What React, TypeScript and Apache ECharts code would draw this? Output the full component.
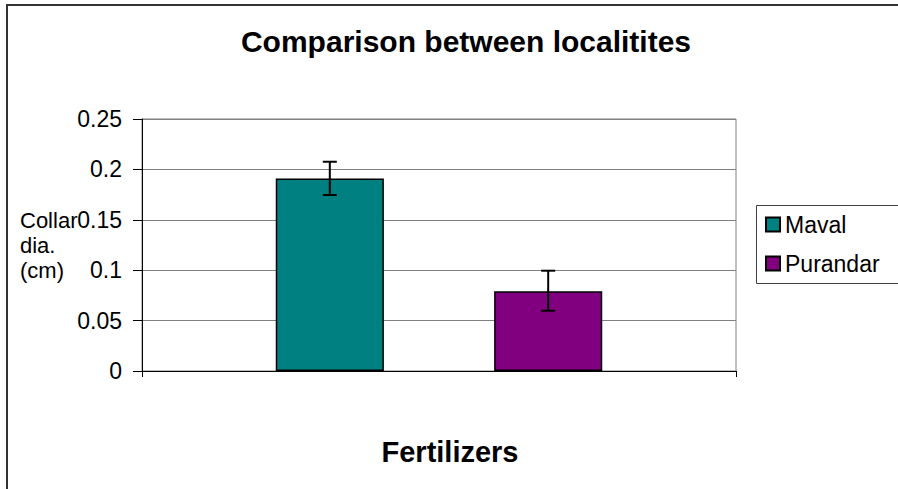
import React, { useEffect, useRef } from "react";
import * as echarts from "echarts";

const categories = ["Fertilizers"];
const seriesNames = ["Maval", "Purandar"];
const seriesColors = ["#008080", "#800080"];
const means = [0.191, 0.079];
const errLow = [0.1746, 0.0598];
const errHigh = [0.2076, 0.0995];
const yTicks = { min: 0, max: 0.25, interval: 0.05 };

const FONT = "'Liberation Sans', Arial, sans-serif";
const BAR_FRAC = 0.182;
const GAP_FRAC = 1.02;

export default function App() {
  const ref = useRef<HTMLDivElement>(null);
  useEffect(() => {
    const chart = echarts.init(ref.current!, null, { renderer: "svg" });
    const barSeries = seriesNames.map((name, i) => ({
      name,
      type: "bar",
      data: [means[i]],
      barWidth: BAR_FRAC * 100 + "%",
      barGap: GAP_FRAC * 100 + "%",
      itemStyle: { color: seriesColors[i], borderColor: "#000", borderWidth: 1.5 },
      z: 2,
    }));
    const errSeries = seriesNames.map((name, i) => ({
      name: name + " error",
      type: "custom",
      z: 5,
      data: [[0, errLow[i], errHigh[i]]],
      renderItem: (params: any, api: any) => {
        const band = api.size([1, 0])[0];
        const bw = band * BAR_FRAC;
        const off = (i === 0 ? -1 : 1) * (bw * (1 + GAP_FRAC)) / 2;
        const lo = api.coord([api.value(0), api.value(1)]);
        const hi = api.coord([api.value(0), api.value(2)]);
        const x = lo[0] + off;
        const cap = 7;
        const style = { stroke: "#000", lineWidth: 2 };
        return {
          type: "group",
          children: [
            { type: "line", shape: { x1: x, y1: hi[1], x2: x, y2: lo[1] }, style },
            { type: "line", shape: { x1: x - cap, y1: hi[1], x2: x + cap, y2: hi[1] }, style },
            { type: "line", shape: { x1: x - cap, y1: lo[1], x2: x + cap, y2: lo[1] }, style },
          ],
        };
      },
    }));
    chart.setOption({
      animation: false,
      backgroundColor: "#fff",
      textStyle: { fontFamily: FONT },
      grid: {
        left: 142,
        top: 119,
        width: 594,
        height: 252,
        show: true,
        borderColor: "#808080",
        borderWidth: 1,
        backgroundColor: "#fff",
      },
      legend: {
        data: seriesNames,
        orient: "vertical",
        left: 756,
        top: 205,
        padding: [8, 10, 8, 9],
        itemGap: 16,
        itemWidth: 14,
        itemHeight: 14,
        icon: "rect",
        borderWidth: 0,
        textStyle: { fontSize: 23, color: "#000", fontFamily: FONT },
      },
      xAxis: {
        type: "category",
        data: categories,
        axisLine: { lineStyle: { color: "#000", width: 1 } },
        axisTick: { show: true, length: 6, lineStyle: { color: "#000" } },
        axisLabel: { show: false },
        splitLine: { show: false },
      },
      yAxis: {
        type: "value",
        min: yTicks.min,
        max: yTicks.max,
        interval: yTicks.interval,
        axisLine: { show: true, lineStyle: { color: "#000", width: 1 } },
        axisTick: { show: true, length: 9, lineStyle: { color: "#000" } },
        axisLabel: { fontSize: 23, color: "#000", margin: 20, fontFamily: FONT },
        splitLine: { lineStyle: { color: "#808080", width: 1 } },
      },
      graphic: [
        {
          type: "polyline",
          shape: { points: [[7, 489], [7, 5], [898, 5]] },
          style: { stroke: "#333", lineWidth: 2, fill: "none" },
          silent: true,
        },
        {
          type: "rect",
          shape: { x: 756.5, y: 205.5, width: 160, height: 78 },
          style: { stroke: "#404040", lineWidth: 1, fill: "none" },
          silent: true,
          z: 10,
        },
        {
          type: "text",
          x: 466,
          y: 41,
          style: {
            text: "Comparison between localitites",
            font: "bold 30px " + FONT,
            fill: "#000",
            textAlign: "center",
            textVerticalAlign: "middle",
          },
        },
        {
          type: "text",
          x: 450,
          y: 452,
          style: {
            text: "Fertilizers",
            font: "bold 29px " + FONT,
            fill: "#000",
            textAlign: "center",
            textVerticalAlign: "middle",
          },
        },
        {
          type: "text",
          x: 20,
          y: 208,
          style: {
            text: "Collar\ndia.\n(cm)",
            font: "22px " + FONT,
            lineHeight: 25,
            fill: "#000",
            textAlign: "left",
            textVerticalAlign: "top",
          },
        },
      ],
      series: [...barSeries, ...errSeries],
    });
    return () => chart.dispose();
  }, []);
  return (
    <div
      ref={ref}
      style={{ position: "absolute", left: 0, top: 0, width: 898, height: 489 }}
    />
  );
}
